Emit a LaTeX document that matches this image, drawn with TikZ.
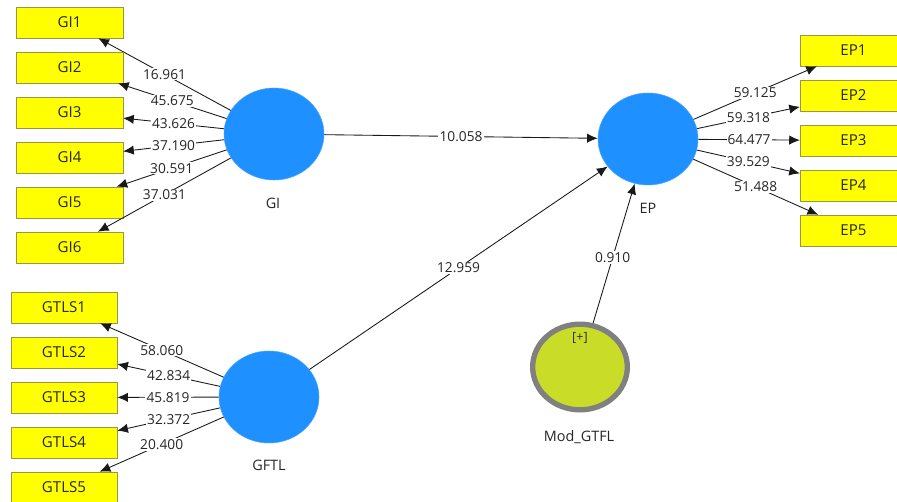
\documentclass[tikz,border=0pt]{standalone}
\usepackage{fontspec}
\setmainfont{Open Sans}
\usetikzlibrary{arrows.meta,shapes.geometric}

\definecolor{lvblue}{RGB}{30,144,255}
\definecolor{indyellow}{RGB}{255,255,0}
\definecolor{modgreen}{RGB}{200,220,40}

\begin{document}
\begin{tikzpicture}[x=0.75pt, y=-0.75pt, font=\fontsize{10.3}{12}\selectfont,
    lv/.style={ellipse, fill=lvblue, draw=lvblue!80!white, minimum width=75pt,
               minimum height=69pt, inner sep=0pt},
    ind/.style={draw=yellow!55!black, fill=indyellow, text=black!85,
                font=\fontsize{11.3}{13}\selectfont,
                minimum width=80pt, minimum height=23.25pt, inner sep=0pt},
    link/.style={draw=black!90, line width=0.65pt, -{Latex[length=8pt,width=7pt]}},
    wt/.style={fill=white, inner sep=0.8pt, text=black!85},
    lvname/.style={text=black!85, font=\fontsize{10.8}{12}\selectfont}]
\clip (0,0) rectangle (897,502);
\fill[white] (0,0) rectangle (897,502);

% latent variables
\node[lv] (gi) at (274,134) {};
\node[lv] (ep) at (648,139) {};
\node[lv] (gftl) at (269,397) {};
\node[ellipse, draw=gray, line width=4pt, fill=modgreen, minimum width=71pt,
      minimum height=64.25pt, inner sep=0pt] (mod) at (580,367) {};
\node[text=black!80, font=\fontsize{9.5}{10}\selectfont] (modplus) at (580,338) {[+]};

\node[lvname] (ginm) at (273,203) {GI};
\node[lvname] (epnm) at (648,208) {EP};
\node[lvname] (gftlnm) at (269,465) {GFTL};
\node[lvname] (modnm) at (579,437) {Mod\_GTFL};

% indicators
\foreach \i/\v in {1/16.961,2/45.675,3/43.626,4/37.190,5/30.591,6/37.031} {
  \node[ind] (gi\i) at (69.5,{22.5+45*(\i-1)}) {GI\i};
  \draw[link] (gi) -- node[wt] {\v} (gi\i);
}
\foreach \i/\v in {1/58.060,2/42.834,3/45.819,4/32.372,5/20.400} {
  \node[ind, minimum width=79.5pt] (gtls\i) at (64,{307.5+45*(\i-1)}) {GTLS\i};
  \draw[link] (gftl) -- node[wt] {\v} (gtls\i);
}
\foreach \i/\v in {1/59.125,2/59.318,3/64.477,4/39.529,5/51.488} {
  \node[ind] (ep\i) at (853.5,{50.5+45*(\i-1)}) {EP\i};
  \draw[link] (ep) -- node[wt] {\v} (ep\i);
}

% structural paths
\draw[link] (gi) -- node[wt] {10.058} (ep);
\draw[link] (gftl) -- node[wt] {12.959} (ep);
\draw[link] (mod) -- node[wt, pos=0.47] {0.910} (ep);
\end{tikzpicture}
\end{document}
